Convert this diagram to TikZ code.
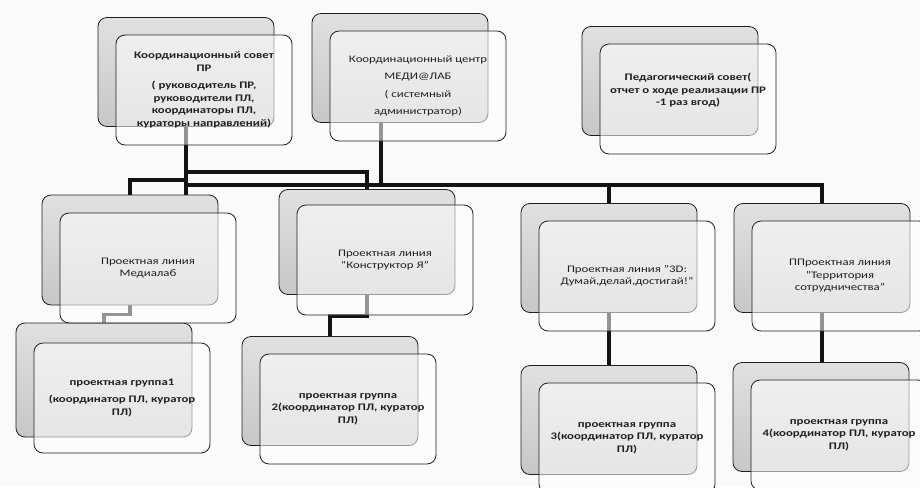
\documentclass[tikz,border=0pt]{standalone}
\usepackage{fontspec}
\setmainfont{Carlito}[FakeStretch=1.28]
\usetikzlibrary{backgrounds,positioning}

\tikzset{
  backbox/.style={rectangle, rounded corners=9pt, draw=gray!25!black, line width=0.8pt,
    top color=gray!24, bottom color=gray!44, minimum width=176pt, minimum height=109pt, inner sep=0pt},
  frontbox/.style={rectangle, rounded corners=9pt, draw=gray!25!black, line width=0.8pt,
    fill=white, fill opacity=0.55, text opacity=1, minimum width=176pt, minimum height=110pt,
    inner sep=0pt, align=center, text=gray!25!black, font=\fontsize{10}{12.5}\selectfont},
  heavy/.style={font=\fontsize{10}{12.5}\selectfont\bfseries},
  link/.style={line width=3.4pt, draw=gray!15!black},
}

\begin{document}
\begin{tikzpicture}[x=1pt,y=-1pt]
\useasboundingbox (0,0) rectangle (920,487);
\clip (0,0) rectangle (920,487);

% back boxes
\node[backbox] (sovet) at (186,72) {};
\node[backbox] (centr) at (400,68) {};
\node[backbox] (pedsovet) at (670,81) {};
\node[backbox, minimum height=110pt] (medialab) at (130,250) {};
\node[backbox, minimum height=105pt] (konstr) at (367,242) {};
\node[backbox] (tri) at (609,258) {};
\node[backbox] (terr) at (822,258) {};
\node[backbox, minimum height=114pt] (gr1) at (104,380) {};
\node[backbox] (gr2) at (330,391) {};
\node[backbox] (gr3) at (609,420) {};
\node[backbox] (gr4) at (821,417) {};

% front boxes
\node[frontbox, heavy] (sovetF) at ([shift={(18,18)}]sovet.center)
  {Координационный совет\\ПР\\[5pt]( руководитель ПР,\\руководители ПЛ,\\координаторы ПЛ,\\кураторы направлений)};
\node[frontbox] (centrF) at ([shift={(18,18)}]centr.center)
  {Координационный центр\\[5pt]МЕДИ@ЛАБ\\[5pt]( системный\\[5pt]администратор)};
\node[frontbox, heavy] (pedsovetF) at ([shift={(18,18)}]pedsovet.center)
  {Педагогический совет(\\отчет о ходе реализации ПР\\-1 раз вгод)\\[6pt]};
\node[frontbox] (medialabF) at ([shift={(18,18)}]medialab.center)
  {Проектная линия\\Медиалаб};
\node[frontbox] (konstrF) at ([shift={(18,18)}]konstr.center)
  {Проектная линия\\"Конструктор Я"};
\node[frontbox] (triF) at ([shift={(18,18)}]tri.center)
  {Проектная линия "3D:\\Думай,делай,достигай!"};
\node[frontbox] (terrF) at ([shift={(18,18)}]terr.center)
  {ППроектная линия\\"Территория\\сотрудничества"};
\node[frontbox, heavy] (gr1F) at ([shift={(18,18)}]gr1.center)
  {проектная группа1\\[5pt](координатор ПЛ, куратор\\ПЛ)};
\node[frontbox, heavy] (gr2F) at ([shift={(18,18)}]gr2.center)
  {проектная группа\\2(координатор ПЛ, куратор\\ПЛ)};
\node[frontbox, heavy] (gr3F) at ([shift={(18,18)}]gr3.center)
  {проектная группа\\3(координатор ПЛ, куратор\\ПЛ)};
\node[frontbox, heavy] (gr4F) at ([shift={(18,18)}]gr4.center)
  {проектная группа\\4(координатор ПЛ, куратор\\ПЛ)};

% bus points
\coordinate (busU) at (186,172);
\coordinate (busL) at (186,180);
\coordinate (busM) at (186,185);

\begin{pgfonlayer}{background}
\fill[gray!4] (0,0) rectangle (920,487);
\draw[link] (sovet.center) -- (sovet.center |- medialab.north);
\draw[link] (medialab.north) |- (busL);
\draw[link] (busU) -| (konstr.north);
\draw[link] (busM) -| (konstr.north);
\draw[link] (busM) -| (tri.north);
\draw[link] (busM) -| (terr.north);
\draw[link] ([xshift=-19pt]centr.center) -- ([xshift=-19pt]centr.center |- busM);
\draw[link] (medialab.center) |- ([yshift=-9pt]medialab.south) -| (gr1.center);
\draw[link] (konstr.center) |- ([yshift=-21pt]konstr.south) -| (gr2.center);
\draw[link] (tri.center) -- (gr3.center);
\draw[link] (terr.center) -- (terr.center |- gr4.north);
\end{pgfonlayer}
\end{tikzpicture}
\end{document}
